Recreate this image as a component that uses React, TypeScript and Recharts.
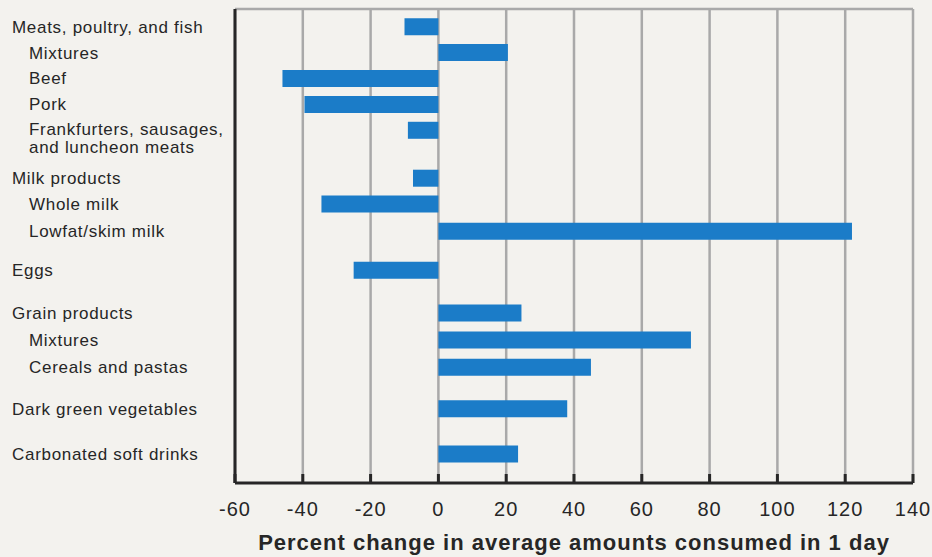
import { BarChart, Bar, XAxis, YAxis, CartesianGrid, ReferenceLine } from "recharts";

const labels = [
  "Meats, poultry, and fish",
  "Mixtures",
  "Beef",
  "Pork",
  "Frankfurters, sausages,\nand luncheon meats",
  "Milk products",
  "Whole milk",
  "Lowfat/skim milk",
  "Eggs",
  "Grain products",
  "Mixtures",
  "Cereals and pastas",
  "Dark green vegetables",
  "Carbonated soft drinks",
];

// 0 = food group, 1 = item within the group
const levels = [0, 1, 1, 1, 1, 0, 1, 1, 0, 0, 1, 1, 0, 0];

// vertical slot of each row (rows are grouped with gaps)
const rows = [0, 1, 2, 3, 4, 5.85, 6.85, 7.9, 9.4, 11.05, 12.1, 13.15, 14.75, 16.5];

const changes = [-10, 20.5, -46, -39.5, -9, -7.5, -34.5, 122, -25, 24.5, 74.5, 45, 38, 23.5];

const xTicks = [-60, -40, -20, 0, 20, 40, 60, 80, 100, 120, 140];

const data = labels.map((label, i) => ({
  label,
  level: levels[i],
  row: rows[i],
  value: changes[i],
}));

const rowDomain: [number, number] = [-0.7, 17.6];

const FONT = "'Liberation Sans', Arial, Helvetica, sans-serif";
const INK = "#262626";

function RowLabel(props: any) {
  const { y, payload } = props;
  const d = data.find((r) => r.row === payload.value);
  if (!d) return null;
  const lines = d.label.split("\n");
  const x = d.level === 0 ? 12 : 29;
  return (
    <text
      x={x}
      y={y + (lines.length > 1 ? 4 : 5.5)}
      fill={INK}
      fontFamily={FONT}
      fontSize={17}
      letterSpacing={0.7}
      textAnchor="start"
    >
      {lines.map((line, i) => (
        <tspan key={i} x={x} dy={i === 0 ? 0 : 18.7}>
          {line}
        </tspan>
      ))}
    </text>
  );
}

function ValueTick(props: any) {
  const { x, y, payload } = props;
  return (
    <g>
      <line x1={x} x2={x} y1={y - 9} y2={y} stroke={INK} strokeWidth={3} />
      <text
        x={x}
        y={y + 33}
        fill={INK}
        fontFamily={FONT}
        fontSize={20}
        letterSpacing={1}
        textAnchor="middle"
      >
        {payload.value}
      </text>
    </g>
  );
}

export default function App() {
  return (
    <div
      style={{
        position: "absolute",
        left: 0,
        top: 0,
        width: 932,
        height: 557,
        background: "#f3f2ee",
      }}
    >
      <BarChart
        width={932}
        height={557}
        data={data}
        layout="vertical"
        margin={{ top: 9, right: 19, bottom: 0, left: 0 }}
      >
        <CartesianGrid horizontal={false} stroke="#a9a9a9" strokeWidth={2.5} />
        <ReferenceLine y={rowDomain[0]} stroke="#a9a9a9" strokeWidth={2.5} />
        <XAxis
          type="number"
          domain={[-60, 140]}
          ticks={xTicks}
          interval={0}
          height={74}
          tickSize={0}
          tickMargin={0}
          tickLine={false}
          axisLine={{ stroke: INK, strokeWidth: 3 }}
          tick={<ValueTick />}
          label={{
            content: (p: any) => {
              const vb = p.viewBox;
              return (
                <text
                  x={vb.x + vb.width / 2}
                  y={vb.y + 67}
                  fill={INK}
                  fontFamily={FONT}
                  fontSize={22}
                  fontWeight="bold"
                  letterSpacing={1}
                  textAnchor="middle"
                >
                  Percent change in average amounts consumed in 1 day
                </text>
              );
            },
          }}
        />
        <YAxis
          type="number"
          dataKey="row"
          domain={rowDomain}
          ticks={rows}
          interval={0}
          width={235}
          tickLine={false}
          axisLine={{ stroke: INK, strokeWidth: 3 }}
          tick={<RowLabel />}
        />
        <Bar dataKey="value" fill="#1b7cc8" barSize={17} isAnimationActive={false} />
      </BarChart>
    </div>
  );
}
